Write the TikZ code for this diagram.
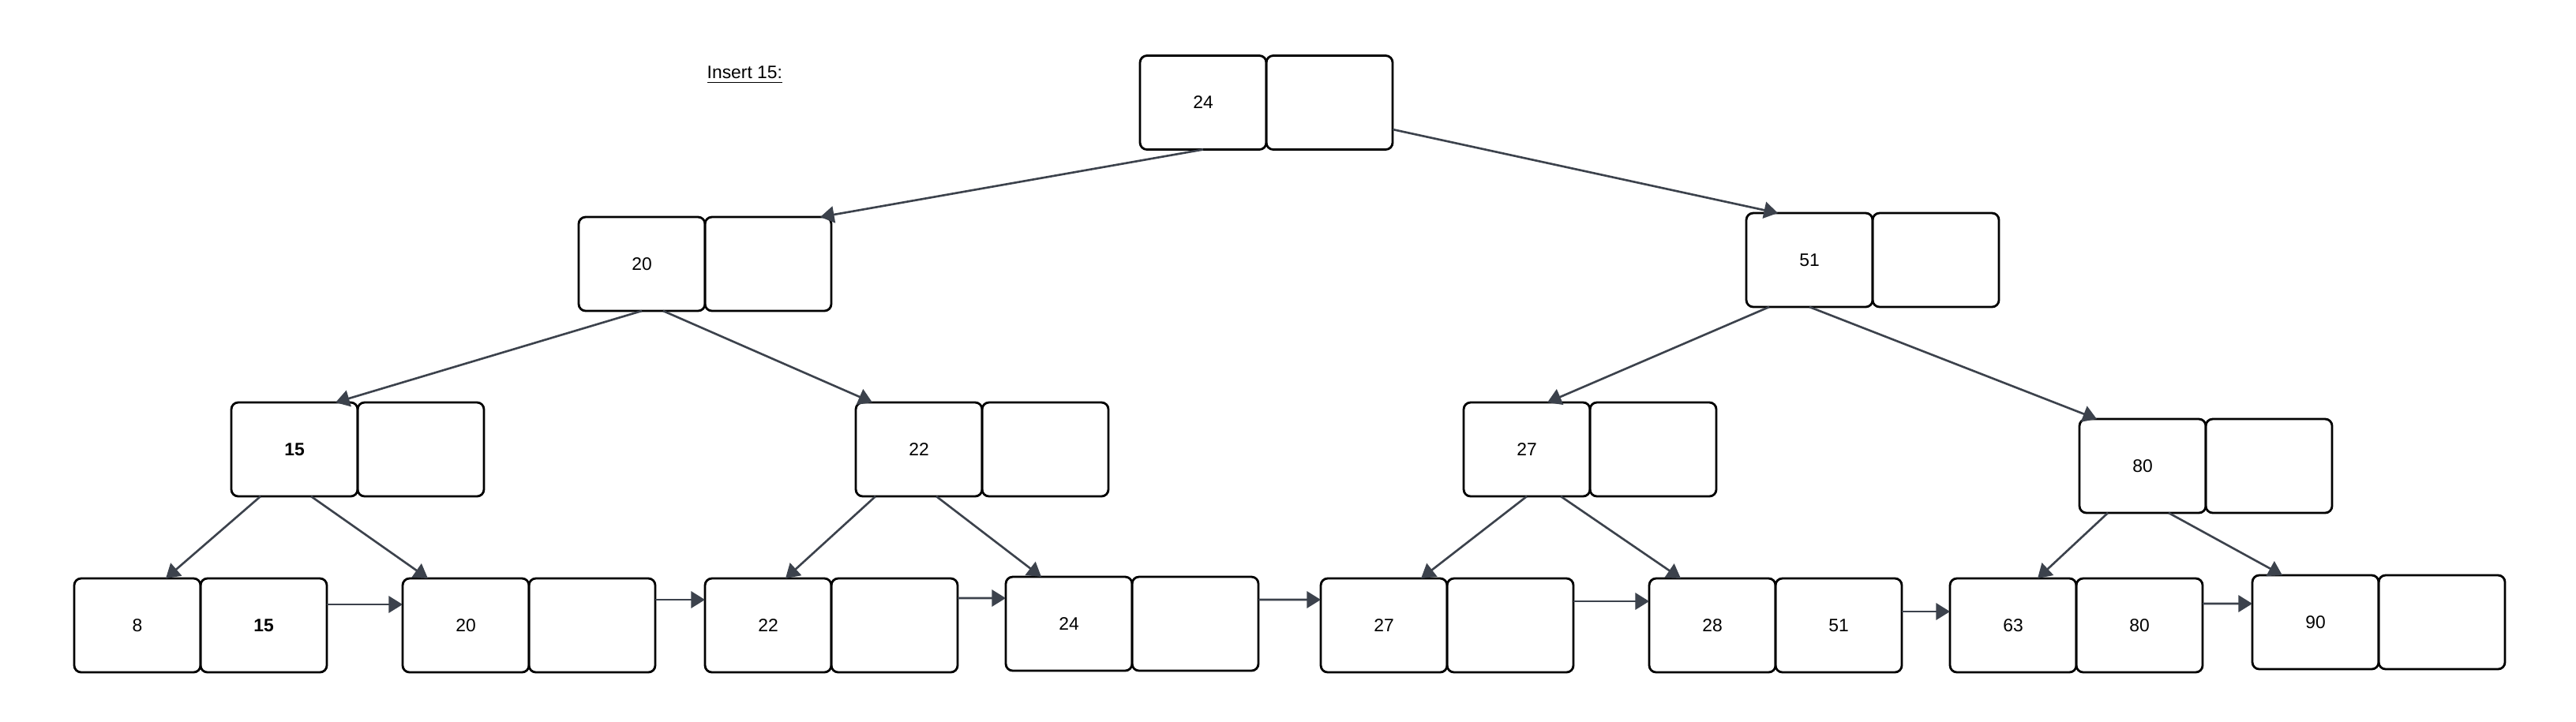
\documentclass[tikz,border=0pt]{standalone}
\usepackage{fontspec}
\setmainfont{Liberation Sans}
\usetikzlibrary{positioning, arrows.meta}
\definecolor{linkGray}{RGB}{60,66,76}
\tikzset{
	keycell/.style={rectangle, draw=black, line width=0.8pt, rounded corners=2.5pt,
		minimum width=1.6cm, minimum height=1.19cm, inner sep=0pt, outer sep=0pt,
		font=\fontsize{6.5}{8}\selectfont},
	childarr/.style={-{Triangle[length=5pt, width=6pt]}, line width=0.75pt, draw=linkGray},
	leafarr/.style={-{Triangle[length=5pt, width=6pt]}, line width=0.75pt, draw=linkGray}
}

\begin{document}
\begin{tikzpicture}
	\useasboundingbox (0,0) rectangle (32.63,-9.14);
	\node[anchor=west, inner sep=0pt, font=\fontsize{6.5}{8}\selectfont] (title) at (8.95,-0.95) {\underline{Insert 15:}};

	% inner nodes
	\node[keycell] (k24) at (15.24,-1.30) {24};
	\node[keycell, right=0pt of k24] (k24e) {};
	\node[keycell] (k20) at (8.13,-3.345) {20};
	\node[keycell, right=0pt of k20] (k20e) {};
	\node[keycell] (k51) at (22.92,-3.295) {51};
	\node[keycell, right=0pt of k51] (k51e) {};
	\node[keycell] (k15) at (3.73,-5.695) {\textbf{15}};
	\node[keycell, right=0pt of k15] (k15e) {};
	\node[keycell] (k22) at (11.64,-5.695) {22};
	\node[keycell, right=0pt of k22] (k22e) {};
	\node[keycell] (k27) at (19.34,-5.695) {27};
	\node[keycell, right=0pt of k27] (k27e) {};
	\node[keycell] (k80) at (27.14,-5.905) {80};
	\node[keycell, right=0pt of k80] (k80e) {};

	% leaves
	\node[keycell] (l8) at (1.74,-7.925) {8};
	\node[keycell, right=0pt of l8] (l8e) {\textbf{15}};
	\node[keycell] (l20) at (5.90,-7.925) {20};
	\node[keycell, right=0pt of l20] (l20e) {};
	\node[keycell] (l22) at (9.73,-7.925) {22};
	\node[keycell, right=0pt of l22] (l22e) {};
	\node[keycell] (l24) at (13.54,-7.905) {24};
	\node[keycell, right=0pt of l24] (l24e) {};
	\node[keycell] (l27) at (17.53,-7.925) {27};
	\node[keycell, right=0pt of l27] (l27e) {};
	\node[keycell] (l28) at (21.69,-7.925) {28};
	\node[keycell, right=0pt of l28] (l28e) {51};
	\node[keycell] (l63) at (25.50,-7.925) {63};
	\node[keycell, right=0pt of l63] (l63e) {80};
	\node[keycell] (l90) at (29.33,-7.885) {90};
	\node[keycell, right=0pt of l90] (l90e) {};

	% child pointers
	\draw[childarr] (k24.south) -- ([xshift=-0.14cm]k20e.north east);
	\draw[childarr] ([yshift=-0.34cm]k24e.east) -- ([xshift=0.40cm]k51.north west);
	\draw[childarr] (k20.south) -- ([xshift=-0.28cm]k15.north east);
	\draw[childarr] ([xshift=0.27cm]k20.south) -- ([xshift=0.21cm]k22.north west);
	\draw[childarr] ([xshift=0.29cm]k51.south west) -- ([xshift=0.26cm]k27.north);
	\draw[childarr] (k51.south) -- ([xshift=0.22cm]k80.north west);
	\draw[childarr] ([xshift=0.37cm]k15.south west) -- ([xshift=0.36cm]l8.north);
	\draw[childarr] ([xshift=0.21cm]k15.south) -- ([xshift=0.32cm]l20.north west);
	\draw[childarr] ([xshift=0.25cm]k22.south west) -- ([xshift=0.22cm]l22.north);
	\draw[childarr] ([xshift=0.22cm]k22.south) -- ([xshift=0.45cm]l24.north west);
	\draw[childarr] (k27.south) -- ([xshift=-0.33cm]l27.north east);
	\draw[childarr] ([xshift=0.43cm]k27.south) -- ([xshift=0.40cm]l28.north west);
	\draw[childarr] ([xshift=0.36cm]k80.south west) -- ([xshift=0.31cm]l63.north);
	\draw[childarr] ([xshift=0.33cm]k80.south) -- ([xshift=0.38cm]l90.north west);

	% leaf chain
	\draw[leafarr] ([yshift=-0.33cm]l8e.north east) -- ([yshift=-0.33cm]l20.north west);
	\draw[leafarr] ([yshift=-0.27cm]l20e.north east) -- ([yshift=-0.27cm]l22.north west);
	\draw[leafarr] ([yshift=-0.25cm]l22e.north east) -- ([yshift=-0.27cm]l24.north west);
	\draw[leafarr] ([yshift=-0.29cm]l24e.north east) -- ([yshift=-0.27cm]l27.north west);
	\draw[leafarr] ([yshift=-0.29cm]l27e.north east) -- ([yshift=-0.29cm]l28.north west);
	\draw[leafarr] ([yshift=-0.42cm]l28e.north east) -- ([yshift=-0.42cm]l63.north west);
	\draw[leafarr] ([yshift=-0.32cm]l63e.north east) -- ([yshift=-0.36cm]l90.north west);
\end{tikzpicture}
\end{document}
